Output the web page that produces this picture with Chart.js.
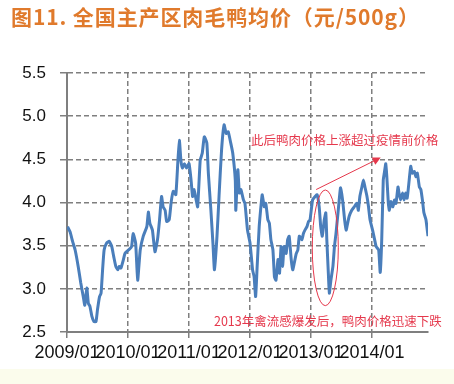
<!DOCTYPE html>
<html>
<head>
<meta charset="utf-8">
<script src="https://cdn.jsdelivr.net/npm/chart.js@4"></script>
<style>
  body { margin: 0; }
  #wrap { position: relative; width: 454px; height: 384px; background: #fff; }
  canvas { position: absolute; left: 0; top: 0; }
  #title {
    position: absolute; left: 11px; top: 1px;
    font: bold 21px "Noto Sans CJK SC", sans-serif; color: #e07a2c;
    letter-spacing: 0.9px; white-space: nowrap;
  }
</style>
</head>
<body>
<div id="wrap">
  <canvas id="c" width="454" height="384"></canvas>
  <div id="title">图11. 全国主产区肉毛鸭均价（元/500g）</div>
</div>
<script>
// months since 2009/01
const months = [
  0.1, 0.6, 1.1, 1.6, 2.2, 2.7, 3.2, 3.5, 3.9, 4.2, 4.5, 4.9, 5.3, 5.7, 6.0, 6.4, 6.7, 7.0, 7.3, 7.8,
  8.3, 8.8, 9.2, 9.6, 10.0, 10.3, 10.6, 11.1, 11.4, 12.1, 12.7, 13.0, 13.5, 13.9, 14.4, 15.0, 15.7, 16.0, 16.3, 16.8,
  17.3, 17.8, 18.2, 18.6, 18.9, 19.3, 19.6, 20.1, 20.5, 20.9, 21.4, 21.8, 22.1, 22.4, 22.7, 23.1, 23.5, 24.0, 24.4, 24.7,
  25.0, 25.4, 25.7, 26.2, 26.6, 27.0, 27.5, 27.8, 28.3, 28.7, 29.0, 29.5, 29.9, 30.4, 30.9, 31.3, 31.7, 32.2, 32.6, 33.1,
  33.2, 33.6, 33.9, 34.2, 34.7, 35.0, 35.5, 36.0, 36.5, 36.8, 37.1, 37.4, 37.8, 38.2, 38.4, 38.8, 39.1, 39.5, 39.8, 40.1,
  40.5, 40.8, 41.1, 41.5, 41.8, 42.1, 42.4, 42.7, 43.1, 43.4, 43.7, 44.1, 44.4, 44.7, 45.1, 45.4, 45.7, 46.2, 46.5, 46.8,
  47.2, 47.5, 47.8, 48.3, 48.8, 49.2, 49.6, 49.9, 50.2, 50.6, 50.9, 51.1, 51.4, 51.6, 51.9, 52.3, 52.6, 52.9, 53.3, 53.6,
  53.8, 54.2, 54.6, 54.9, 55.2, 55.5, 56.0, 56.5, 57.0, 57.3, 57.6, 58.0, 58.3, 58.6, 59.0, 59.3, 59.6, 60.1, 60.5, 60.8,
  61.3, 61.6, 61.9, 62.2, 62.4, 62.7, 62.9, 63.2, 63.4, 63.7, 64.1, 64.4, 64.7, 65.1, 65.3, 65.6, 66.0, 66.3, 66.6, 66.9,
  67.3, 67.6, 67.9, 68.3, 68.6, 68.9, 69.3, 69.6, 69.9, 70.2, 70.6, 71.0
];
const prices = [
  3.72, 3.66, 3.55, 3.45, 3.26, 3.07, 2.91, 2.81, 3.01, 2.83, 2.80, 2.68, 2.62, 2.62, 2.76, 2.91, 2.95, 3.22, 3.45, 3.53,
  3.55, 3.49, 3.37, 3.26, 3.22, 3.26, 3.24, 3.34, 3.41, 3.45, 3.49, 3.64, 3.53, 3.10, 3.45, 3.61, 3.72, 3.89, 3.76, 3.68,
  3.43, 3.57, 3.80, 4.07, 3.95, 3.91, 3.78, 3.80, 4.01, 4.13, 4.09, 4.47, 4.72, 4.49, 4.40, 4.45, 4.40, 4.45, 4.26, 4.07,
  4.15, 4.03, 3.95, 4.49, 4.57, 4.76, 4.69, 4.34, 3.91, 3.53, 3.22, 3.61, 4.07, 4.61, 4.90, 4.80, 4.82, 4.69, 4.57, 4.26,
  3.91, 4.38, 4.11, 4.15, 4.03, 3.99, 3.68, 3.53, 3.22, 3.14, 2.91, 3.26, 3.72, 3.99, 4.09, 3.95, 3.99, 3.80, 3.76, 3.57,
  3.45, 3.14, 3.10, 3.34, 3.18, 3.49, 3.26, 3.49, 3.41, 3.57, 3.61, 3.34, 3.22, 3.30, 3.41, 3.45, 3.61, 3.57, 3.64, 3.68,
  3.72, 3.78, 3.80, 4.03, 4.07, 4.09, 3.95, 3.72, 3.61, 3.80, 3.88, 3.57, 3.18, 2.95, 3.10, 3.26, 3.49, 3.64, 3.88, 4.07,
  4.17, 4.03, 3.80, 3.68, 3.76, 3.84, 3.91, 3.95, 3.99, 3.91, 4.07, 4.18, 4.26, 4.18, 4.07, 3.95, 3.80, 3.68, 3.57, 3.49,
  3.45, 3.19, 3.57, 4.26, 4.34, 4.45, 4.30, 3.99, 3.91, 4.01, 3.95, 4.03, 3.99, 4.18, 4.11, 4.03, 4.11, 4.03, 4.11, 4.05,
  4.26, 4.42, 4.34, 4.36, 4.30, 4.34, 4.18, 4.15, 4.03, 3.88, 3.80, 3.61
];
const xTicks = [0, 12, 24, 36, 48, 60];
const xTickLabels = ['2009/01', '2010/01', '2011/01', '2012/01', '2013/01', '2014/01'];
const yTicks = [2.5, 3.0, 3.5, 4.0, 4.5, 5.0, 5.5];

const noteTop = '此后鸭肉价格上涨超过疫情前价格';
const noteBottom = '2013年禽流感爆发后，鸭肉价格迅速下跌';

const GRID = '#7f7f7f';
const RED = '#e5384c';

// white page with the pale strip along the bottom
const backdrop = {
  id: 'backdrop',
  beforeDraw(chart) {
    const { ctx, width, height } = chart;
    ctx.save();
    ctx.fillStyle = '#ffffff';
    ctx.fillRect(0, 0, width, height);
    ctx.fillStyle = '#fbfcec';
    ctx.fillRect(0, 369, width, height - 369);
    ctx.restore();
  }
};

const notes = {
  id: 'notes',
  afterDatasetsDraw(chart) {
    const { ctx, scales: { x, y } } = chart;
    ctx.save();
    ctx.fillStyle = RED;
    ctx.strokeStyle = RED;
    ctx.setLineDash([]);
    ctx.font = '12.5px "Noto Sans CJK SC", sans-serif';
    ctx.textBaseline = 'middle';
    ctx.fillText(noteTop, x.getPixelForValue(36.2), y.getPixelForValue(4.72));
    ctx.fillText(noteBottom, x.getPixelForValue(28.9), y.getPixelForValue(2.63));

    // ellipse round the 2013 drop
    ctx.lineWidth = 1;
    ctx.beginPath();
    const cx = x.getPixelForValue(50.8), cy = y.getPixelForValue(3.475);
    const rx = x.getPixelForValue(50.8 + 2.56) - cx, ry = cy - y.getPixelForValue(3.475 + 0.67);
    ctx.ellipse(cx, cy, rx, ry, 0, 0, Math.PI * 2);
    ctx.stroke();

    // arrow
    const x1 = x.getPixelForValue(49.0), y1 = y.getPixelForValue(4.15);
    const x2 = x.getPixelForValue(61.7), y2 = y.getPixelForValue(4.52);
    const a = Math.atan2(y2 - y1, x2 - x1);
    ctx.beginPath();
    ctx.moveTo(x1, y1);
    ctx.lineTo(x2 - 6 * Math.cos(a), y2 - 6 * Math.sin(a));
    ctx.stroke();
    ctx.beginPath();
    ctx.moveTo(x2, y2);
    ctx.lineTo(x2 - 8 * Math.cos(a) + 4 * Math.sin(a), y2 - 8 * Math.sin(a) - 4 * Math.cos(a));
    ctx.lineTo(x2 - 8 * Math.cos(a) - 4 * Math.sin(a), y2 - 8 * Math.sin(a) + 4 * Math.cos(a));
    ctx.closePath();
    ctx.fill();
    ctx.restore();
  }
};

new Chart(document.getElementById('c'), {
  type: 'line',
  data: {
    datasets: [{
      data: months.map((m, i) => ({ x: m, y: prices[i] })),
      borderColor: '#4a7ebb',
      borderWidth: 3,
      pointRadius: 0,
      tension: 0.15,
      fill: false
    }]
  },
  options: {
    responsive: false,
    animation: false,
    layout: { padding: { left: 0, top: 73, right: 26, bottom: 22 } },
    plugins: { legend: { display: false }, tooltip: { enabled: false } },
    scales: {
      x: {
        type: 'linear',
        min: 0,
        max: 71,
        afterBuildTicks: s => { s.ticks = xTicks.map(v => ({ value: v })); },
        afterFit: s => { s.height = 30; },
        ticks: {
          autoSkip: false,
          maxRotation: 0,
          padding: 4,
          color: '#111',
          font: { family: '"Liberation Sans", sans-serif', size: 18 },
          callback: v => xTickLabels[xTicks.indexOf(v)]
        },
        grid: { color: GRID, lineWidth: 1.5, tickLength: 6 },
        border: { color: GRID, width: 2, dash: [5, 3] }
      },
      y: {
        min: 2.5,
        max: 5.5,
        afterBuildTicks: s => { s.ticks = yTicks.map(v => ({ value: v })); },
        afterFit: s => { s.width = 67; },
        ticks: {
          padding: 14,
          color: '#111',
          font: { family: '"Liberation Sans", sans-serif', size: 17 },
          callback: v => v.toFixed(1)
        },
        grid: { color: GRID, lineWidth: 1.5, tickLength: 7 },
        border: { color: GRID, width: 2, dash: [5, 3] }
      }
    }
  },
  plugins: [backdrop, notes]
});
</script>
</body>
</html>
